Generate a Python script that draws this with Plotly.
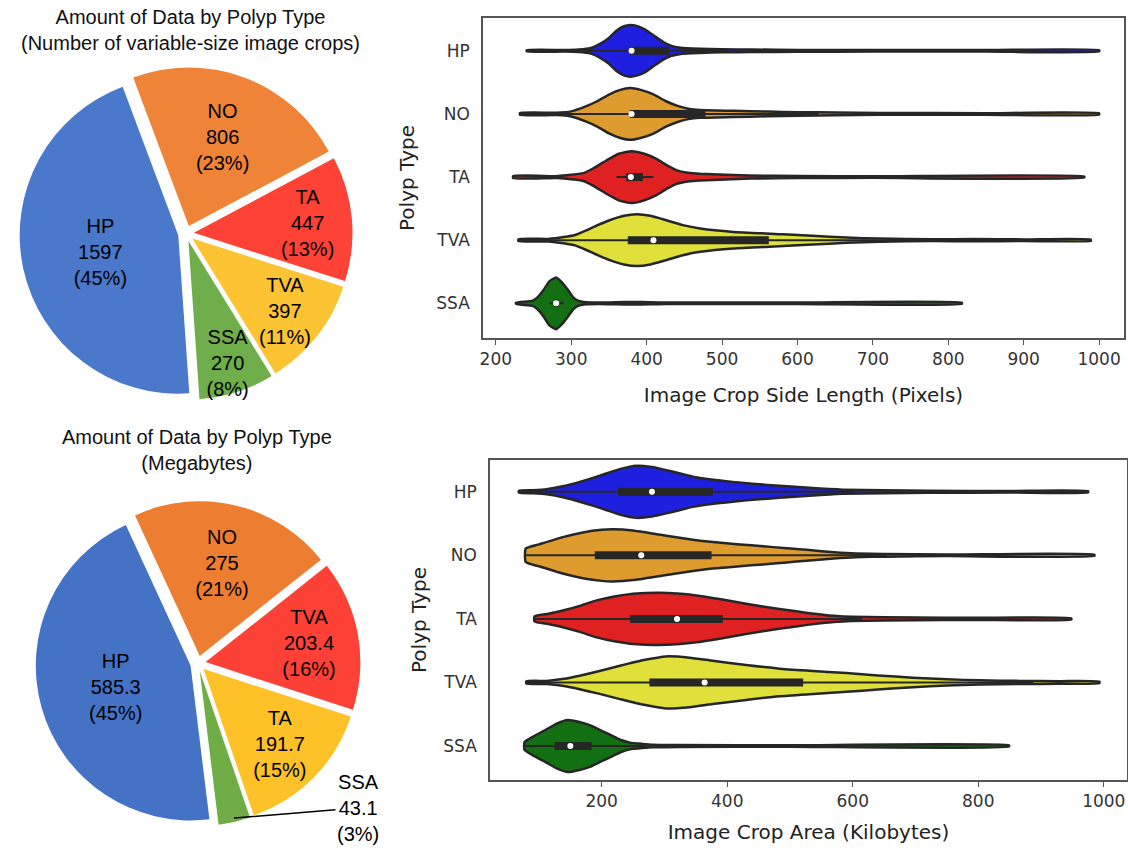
import plotly.graph_objects as go

# ---------------- data ----------------
categories = ["HP", "NO", "TA", "TVA", "SSA"]

# Pie 1: number of crops (slice order clockwise)
pie1_labels = ["HP", "NO", "TA", "TVA", "SSA"]
pie1_values = [1597, 806, 447, 397, 270]
pie1_colors = ["#4a78cb", "#ef8438", "#fe4236", "#fcc332", "#6fae4a"]

# Pie 2: megabytes (slice order clockwise)
pie2_labels = ["HP", "NO", "TVA", "TA", "SSA"]
pie2_values = [585.3, 275, 203.4, 191.7, 43.1]
pie2_colors = ["#4472c4", "#ed7d31", "#fe4136", "#fec127", "#70ad47"]

violin_colors = {"HP": "#1f1fe0", "NO": "#df9c2e", "TA": "#df2121",
                 "TVA": "#e0e03a", "SSA": "#127012"}

# Violin 1: image crop side length (pixels) - density outline (value, relative half-width)
side_grid = {
    "HP": [241, 290, 310, 325, 340, 350, 360, 370, 378, 388, 398, 410, 422, 432, 445, 470, 500, 540, 600, 700, 850, 1000],
    "NO": [232, 280, 300, 320, 335, 350, 365, 378, 392, 409, 425, 440, 455, 471, 515, 560, 603, 650, 709, 850, 1000],
    "TA": [223, 280, 294, 316, 330, 347, 363, 380, 397, 413, 427, 440, 455, 471, 537, 603, 700, 980],
    "TVA": [230, 270, 290, 305, 320, 335, 351, 370, 387, 405, 426, 448, 471, 515, 581, 620, 665, 709, 780, 833, 900, 989],
    "SSA": [227, 249, 256, 263, 271, 280, 288, 296, 303, 309, 320, 338, 360, 382, 405, 426, 600, 818],
}
side_width = {
    "HP": [0.025, 0.03, 0.05, 0.1, 0.3, 0.5, 0.78, 0.95, 1.0, 0.95, 0.82, 0.58, 0.34, 0.2, 0.12, 0.08, 0.06, 0.05, 0.035, 0.03, 0.03, 0.025],
    "NO": [0.035, 0.045, 0.1, 0.3, 0.5, 0.75, 0.93, 1.0, 0.93, 0.76, 0.5, 0.32, 0.2, 0.15, 0.12, 0.09, 0.07, 0.055, 0.035, 0.03, 0.025],
    "TA": [0.04, 0.035, 0.07, 0.15, 0.35, 0.65, 0.9, 1.0, 0.9, 0.7, 0.45, 0.26, 0.17, 0.13, 0.06, 0.04, 0.03, 0.025],
    "TVA": [0.035, 0.05, 0.12, 0.2, 0.38, 0.58, 0.77, 0.94, 1.0, 0.94, 0.77, 0.58, 0.45, 0.32, 0.23, 0.17, 0.1, 0.06, 0.035, 0.045, 0.03, 0.025],
    "SSA": [0.025, 0.1, 0.25, 0.5, 0.85, 1.0, 0.8, 0.5, 0.22, 0.1, 0.04, 0.03, 0.04, 0.05, 0.04, 0.03, 0.03, 0.025],
}
# box stats: whisker low, Q1, median, Q3, whisker high
side_stats = {
    "HP": [300, 378, 380, 430, 508],
    "NO": [232, 378, 380, 478, 628],
    "TA": [360, 373, 379, 395, 409],
    "TVA": [230, 375, 409, 562, 842],
    "SSA": [271, 278, 280, 283, 290],
}

# Violin 2: image crop area (kilobytes)
area_grid = {
    "HP": [68, 90, 112, 140, 165, 187, 207, 230, 255, 280, 303, 325, 345, 375, 409, 445, 483, 531, 584, 650, 722, 850, 975],
    "NO": [79, 100, 138, 170, 200, 218, 250, 298, 340, 377, 420, 457, 490, 531, 570, 605, 650, 750, 985],
    "TA": [93, 115, 138, 165, 192, 220, 245, 270, 292, 320, 351, 390, 430, 483, 531, 570, 598, 700, 791, 948],
    "TVA": [80, 112, 140, 165, 195, 229, 265, 303, 340, 377, 430, 483, 531, 590, 640, 696, 750, 802, 866, 930, 993],
    "SSA": [77, 90, 112, 130, 146, 163, 181, 200, 218, 232, 245, 265, 282, 324, 500, 849],
}
area_width = {
    "HP": [0.035, 0.06, 0.1, 0.22, 0.38, 0.54, 0.7, 0.88, 1.0, 0.95, 0.83, 0.7, 0.58, 0.47, 0.38, 0.3, 0.23, 0.15, 0.08, 0.055, 0.04, 0.03, 0.025],
    "NO": [0.26, 0.42, 0.7, 0.88, 0.98, 1.0, 0.95, 0.77, 0.62, 0.51, 0.42, 0.35, 0.28, 0.2, 0.12, 0.07, 0.05, 0.03, 0.025],
    "TA": [0.1, 0.2, 0.32, 0.5, 0.71, 0.86, 0.95, 0.99, 1.0, 0.97, 0.9, 0.75, 0.58, 0.38, 0.22, 0.12, 0.08, 0.055, 0.04, 0.025],
    "TVA": [0.045, 0.06, 0.14, 0.26, 0.43, 0.64, 0.85, 1.0, 0.95, 0.83, 0.67, 0.53, 0.45, 0.36, 0.27, 0.18, 0.12, 0.08, 0.06, 0.05, 0.03],
    "SSA": [0.15, 0.35, 0.64, 0.88, 1.0, 0.93, 0.8, 0.58, 0.38, 0.22, 0.13, 0.08, 0.05, 0.035, 0.03, 0.025],
}
area_stats = {
    "HP": [68, 226, 280, 377, 603],
    "NO": [79, 189, 263, 375, 654],
    "TA": [93, 245, 320, 393, 615],
    "TVA": [80, 276, 364, 521, 888],
    "SSA": [77, 125, 150, 184, 272],
}

side_ticks = [200, 300, 400, 500, 600, 700, 800, 900, 1000]
area_ticks = [200, 400, 600, 800, 1000]

# ---------------- figure ----------------
W, H = 1128, 848
fig = go.Figure()

PIE_FONT = "Liberation Sans, Arial, Helvetica, sans-serif"
AX_FONT = "DejaVu Sans, sans-serif"

fig.add_trace(go.Pie(
    labels=pie1_labels, values=pie1_values, sort=False, direction="clockwise",
    rotation=176, pull=[0.05] * 5,
    marker=dict(colors=pie1_colors, line=dict(color="white", width=0)),
    texttemplate="%{label}<br>%{value:d}<br>(%{percent:.0%})",
    textposition="inside", insidetextorientation="horizontal",
    textfont=dict(family=PIE_FONT, size=20, color="black"),
    domain=dict(x=[19 / W, 353 / W], y=[1 - 400 / H, 1 - 67 / H]),
    showlegend=False, hoverinfo="label+value+percent",
))

tot2 = sum(pie2_values)
pie2_templates = ["%{label}<br>%{value}<br>(%{percent:.0%})"] * 4 + [""]
fig.add_trace(go.Pie(
    labels=pie2_labels, values=pie2_values, sort=False, direction="clockwise",
    rotation=173, pull=[0.05] * 5,
    marker=dict(colors=pie2_colors, line=dict(color="white", width=0)),
    texttemplate=pie2_templates,
    textposition="inside", insidetextorientation="horizontal",
    textfont=dict(family=PIE_FONT, size=20, color="black"),
    domain=dict(x=[35 / W, 361 / W], y=[1 - 826 / H, 1 - 501 / H]),
    showlegend=False, hoverinfo="label+value+percent",
))

# SSA outside label with leader line (from data)
ssa_i = pie2_labels.index("SSA")
ssa_txt = f"{pie2_labels[ssa_i]}<br>{pie2_values[ssa_i]}<br>({pie2_values[ssa_i] / tot2:.0%})"

HALF = 0.41
OUTLINE = "#262626"


def add_violins(grid, width, stats, xa, ya):
    for i, c in enumerate(categories):
        g = grid[c]
        w = width[c]
        xs = list(g) + list(g[::-1]) + [g[0]]
        ys = [i - HALF * v for v in w] + [i + HALF * v for v in w[::-1]] + [i - HALF * w[0]]
        fig.add_trace(go.Scatter(
            x=xs, y=ys, xaxis=xa, yaxis=ya, mode="lines", fill="toself",
            fillcolor=violin_colors[c],
            line=dict(color=OUTLINE, width=2.5, shape="spline", smoothing=0.5),
            showlegend=False, hoverinfo="skip"))
        lo, q1, med, q3, hi = stats[c]
        fig.add_trace(go.Scatter(
            x=[lo, hi], y=[i, i], xaxis=xa, yaxis=ya, mode="lines",
            line=dict(color=OUTLINE, width=2), showlegend=False, hoverinfo="skip"))
        fig.add_trace(go.Scatter(
            x=[q1, q3], y=[i, i], xaxis=xa, yaxis=ya, mode="lines",
            line=dict(color=OUTLINE, width=8), showlegend=False, hoverinfo="skip"))
        fig.add_trace(go.Scatter(
            x=[med], y=[i], xaxis=xa, yaxis=ya, mode="markers",
            marker=dict(color="white", size=6, line=dict(width=0)),
            showlegend=False, hoverinfo="skip"))


add_violins(side_grid, side_width, side_stats, "x", "y")
add_violins(area_grid, area_width, area_stats, "x2", "y2")

frame = dict(showline=True, mirror=True, linecolor="#555555", linewidth=1.5,
             showgrid=False, zeroline=False, automargin=False)
tickf = dict(family=AX_FONT, size=17, color="#333333")
titlef = dict(family=AX_FONT, size=20, color="#222222")

fig.update_layout(
    template="none",
    width=W, height=H, margin=dict(l=0, r=0, t=0, b=0, autoexpand=False),
    paper_bgcolor="white", plot_bgcolor="white",
    uniformtext=dict(minsize=20, mode="show"),
    xaxis=dict(domain=[483 / W, 1124 / W], anchor="y", range=[183, 1033],
               tickvals=side_ticks, ticks="outside", ticklen=5, tickcolor="#555555",
               tickfont=tickf, title=dict(text="Image Crop Side Length (Pixels)", font=titlef, standoff=20),
               **frame),
    yaxis=dict(domain=[1 - 338 / H, 1 - 18 / H], anchor="x", range=[4.55, -0.52],
               tickvals=list(range(len(categories))), ticktext=categories,
               ticks="outside", ticklen=8, tickcolor="rgba(0,0,0,0)",
               tickfont=tickf, title=dict(text="Polyp Type", font=titlef, standoff=16),
               **frame),
    xaxis2=dict(domain=[490 / W, 1127 / W], anchor="y2", range=[22, 1037],
                tickvals=area_ticks, ticks="outside", ticklen=5, tickcolor="#555555",
                tickfont=tickf, title=dict(text="Image Crop Area (Kilobytes)", font=titlef, standoff=15),
                **frame),
    yaxis2=dict(domain=[1 - 780 / H, 1 - 460 / H], anchor="x2", range=[4.535, -0.5],
                tickvals=list(range(len(categories))), ticktext=categories,
                ticks="outside", ticklen=8, tickcolor="rgba(0,0,0,0)",
                tickfont=tickf, title=dict(text="Polyp Type", font=titlef, standoff=11),
                **frame),
    annotations=[
        dict(text="Amount of Data by Polyp Type<br>(Number of variable-size image crops)",
             xref="paper", yref="paper", x=190 / W, y=1 - 4 / H, xanchor="center", yanchor="top",
             showarrow=False, font=dict(family=PIE_FONT, size=20, color="#111111")),
        dict(text="Amount of Data by Polyp Type<br>(Megabytes)",
             xref="paper", yref="paper", x=197 / W, y=1 - 424 / H, xanchor="center", yanchor="top",
             showarrow=False, font=dict(family=PIE_FONT, size=20, color="#111111")),
        dict(text=ssa_txt, xref="paper", yref="paper", x=234 / W, y=1 - 818 / H,
             ax=124, ay=-10, showarrow=True, arrowhead=0, arrowwidth=1.5, arrowcolor="black",
             font=dict(family=PIE_FONT, size=20, color="black")),
    ],
)

fig.write_html("out.html", config={"displayModeBar": False},
               post_script="document.body.style.margin='0px';document.body.style.padding='0px';")
